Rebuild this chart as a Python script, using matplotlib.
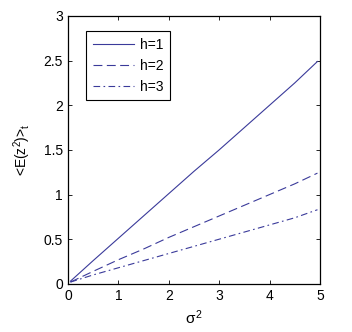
import matplotlib
matplotlib.use('Agg')
import matplotlib.pyplot as plt

plt.rcParams['font.family'] = ['Liberation Sans', 'DejaVu Sans']
plt.rcParams['mathtext.fontset'] = 'custom'
plt.rcParams['mathtext.rm'] = 'Liberation Sans'
plt.rcParams['mathtext.it'] = 'Liberation Sans'

# values
sigma2 = [0.05, 0.5, 1.0, 1.5, 2.0, 2.5, 3.0, 3.5, 4.0, 4.5, 4.95]
h1 = [0.03, 0.26, 0.51, 0.76, 1.01, 1.26, 1.50, 1.75, 2.00, 2.25, 2.49]
h2 = [0.02, 0.14, 0.27, 0.39, 0.52, 0.64, 0.76, 0.88, 1.00, 1.12, 1.24]
h3 = [0.02, 0.10, 0.18, 0.26, 0.34, 0.42, 0.50, 0.58, 0.66, 0.74, 0.83]
labels = ['h=1', 'h=2', 'h=3']

col = '#3a3a9a'

fig = plt.figure(figsize=(3.52, 3.32), dpi=100)
ax = fig.add_axes([0.193, 0.145, 0.716, 0.807])

ax.plot(sigma2, h1, '-', color=col, lw=0.8, label=labels[0])
ax.plot(sigma2, h2, color=col, lw=0.8, dashes=(8, 4), label=labels[1])
ax.plot(sigma2, h3, color=col, lw=0.8, dashes=(6, 3, 1.5, 3), label=labels[2])

ax.set_xlim(0, 5)
ax.set_ylim(0, 3)
ax.set_xticks([0, 1, 2, 3, 4, 5])
ax.set_yticks([0, 0.5, 1, 1.5, 2, 2.5, 3])
ax.set_yticklabels(['0', '0.5', '1', '1.5', '2', '2.5', '3'])
ax.tick_params(direction='in', top=True, right=True, labelsize=10, length=3, width=0.6)
for s in ax.spines.values():
    s.set_linewidth(0.9)

ax.set_xlabel(r'$\sigma^2$', fontsize=11, labelpad=4)
ax.set_ylabel(r'<E(z$^2$)>$_t$', fontsize=10, labelpad=8)

leg = ax.legend(loc='upper left', bbox_to_anchor=(0.07, 0.945), borderaxespad=0,
                fontsize=10, fancybox=False, edgecolor='black', framealpha=1,
                handlelength=3.0, handletextpad=0.4, borderpad=0.5, labelspacing=0.5)
leg.get_frame().set_linewidth(0.8)

fig.savefig('out.png', dpi=100)
